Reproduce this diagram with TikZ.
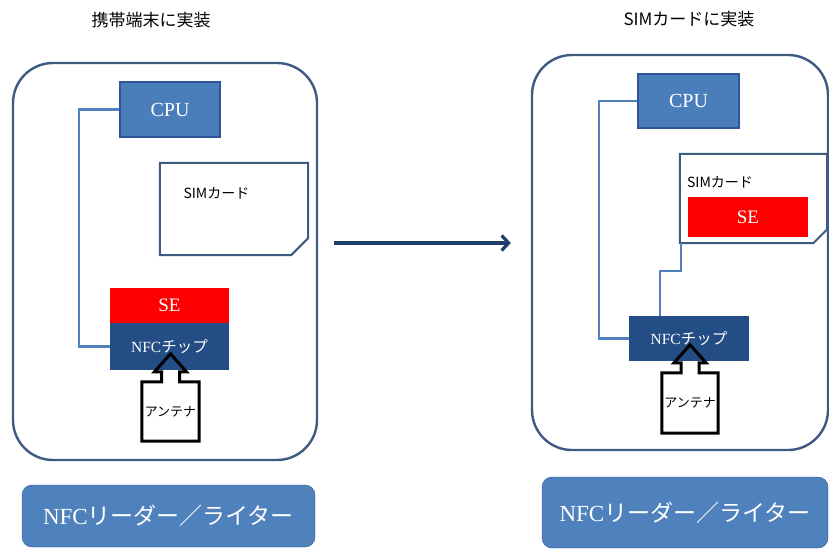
\documentclass[tikz,border=0pt]{standalone}
\usepackage{fontspec}
\setmainfont{Liberation Serif}
\newfontfamily\jp{Noto Sans CJK JP}
\usetikzlibrary{calc,arrows.meta}

\definecolor{panelline}{HTML}{3D5A80}
\definecolor{cpublue}{HTML}{4A7EBB}
\definecolor{cpuline}{HTML}{2F5597}
\definecolor{chipblue}{HTML}{244C85}
\definecolor{wireblue}{HTML}{4F81BD}
\definecolor{flowblue}{HTML}{1F3D6B}
\definecolor{sered}{HTML}{FF0000}

\begin{document}
\begin{tikzpicture}[x=1pt,y=-1pt,
  panel/.style={draw=panelline,line width=2.4pt,rounded corners=40pt,inner sep=0pt},
  cpu/.style={draw=cpuline,fill=cpublue,line width=1.4pt,text=white,inner sep=0pt,font=\fontsize{20}{20}\selectfont},
  sebox/.style={fill=sered,text=white,inner sep=0pt,font=\fontsize{19}{19}\selectfont},
  chip/.style={fill=chipblue,text=white,inner sep=0pt,font=\fontsize{15.5}{15.5}\selectfont},
  simcard/.style={inner sep=0pt},
  simline/.style={draw=panelline,line width=2pt},
  antenna/.style={draw=black,line width=3pt,line join=miter},
  reader/.style={draw=cpuline,fill=wireblue,rounded corners=10pt,text=white,inner sep=0pt,font=\fontsize{23}{23}\selectfont},
  wire/.style={draw=wireblue,line width=2.2pt},
  flow/.style={draw=flowblue,line width=3.2pt,-{Straight Barb[length=7pt,width=15pt]}},
  title/.style={font=\jp\fontsize{17}{17}\selectfont}]
\useasboundingbox (0,0) rectangle (829,556);

% titles
\node[title] (titleL) at (151,20) {携帯端末に実装};
\node[title] (titleR) at (689,19) {SIMカードに実装};

% phones
\node[panel,minimum width=304pt,minimum height=397pt] (phoneL) at (165,261.5) {};
\node[panel,minimum width=296pt,minimum height=395pt] (phoneR) at (680,252.5) {};

% left: SE in the phone
\node[cpu,minimum width=100pt,minimum height=55pt] (cpuL) at (170,109.5) {CPU};
\node[simcard,minimum width=148pt,minimum height=92pt] (simL) at (234,209) {};
\draw[simline] (simL.north west) -| ($(simL.south east)+(0,-17)$)
  -- ($(simL.south east)+(-17,0)$) -| cycle;
\node[anchor=west,font=\jp\fontsize{14}{14}\selectfont] (simtextL) at (180,193) {SIMカード};
\node[sebox,minimum width=119pt,minimum height=35pt] (seL) at (169.5,305.5) {SE};
\node[chip,minimum width=119pt,minimum height=47pt] (nfcL) at (169.5,346.5) {NFC{\jp チップ}};
\node[font=\jp\fontsize{13}{13}\selectfont,minimum width=57pt,minimum height=59pt,inner sep=0pt] (antL) at (170.5,411.5) {アンテナ};
\node[reader,minimum width=293pt,minimum height=62pt] (readerL) at (168.5,516) {NFC{\jp リーダー／ライター}};

\draw[wire] (cpuL.west) -- ++(-40,0) |- (nfcL.west);

% right: SE on the SIM card
\node[cpu,minimum width=101pt,minimum height=54pt] (cpuR) at (688.5,101) {CPU};
\node[simcard,minimum width=147pt,minimum height=89pt] (simR) at (753.5,198.5) {};
\draw[simline] (simR.north west) -| ($(simR.south east)+(0,-14)$)
  -- ($(simR.south east)+(-14,0)$) -| cycle;
\node[font=\jp\fontsize{14}{14}\selectfont] (simtextR) at (720,182) {SIMカード};
\node[sebox,minimum width=120pt,minimum height=40pt] (seR) at (748,217) {SE};
\node[chip,minimum width=120pt,minimum height=45pt] (nfcR) at (689,338.5) {NFC{\jp チップ}};
\node[font=\jp\fontsize{13}{13}\selectfont,minimum width=56pt,minimum height=60pt,inner sep=0pt] (antR) at (690,403) {アンテナ};
\node[reader,minimum width=286pt,minimum height=71pt] (readerR) at (685,512.5) {NFC{\jp リーダー／ライター}};

\draw[wire] (cpuR.west) -- ++(-38,0) |- (nfcR.west);
\draw[wire] ([xshift=-29pt]nfcR.north) -- ++(0,-45) -| ([xshift=1pt]simR.south west);

% antennas
\foreach \a in {antL,antR}
  \draw[antenna] (\a.north west) -- ($(\a.north)+(-9,0)$) -- ++(0,-10) -- ++(-7,0)
    -- ($(\a.north)+(0,-28)$) -- ($(\a.north)+(16,-10)$) -- ++(-7,0) -- ++(0,10)
    -- (\a.north east) |- (\a.south west) -- cycle;

% change
\draw[flow] ($(phoneL.east)+(16,-18.5)$) -- ($(phoneR.west)+(-20,-9.5)$);
\end{tikzpicture}
\end{document}
